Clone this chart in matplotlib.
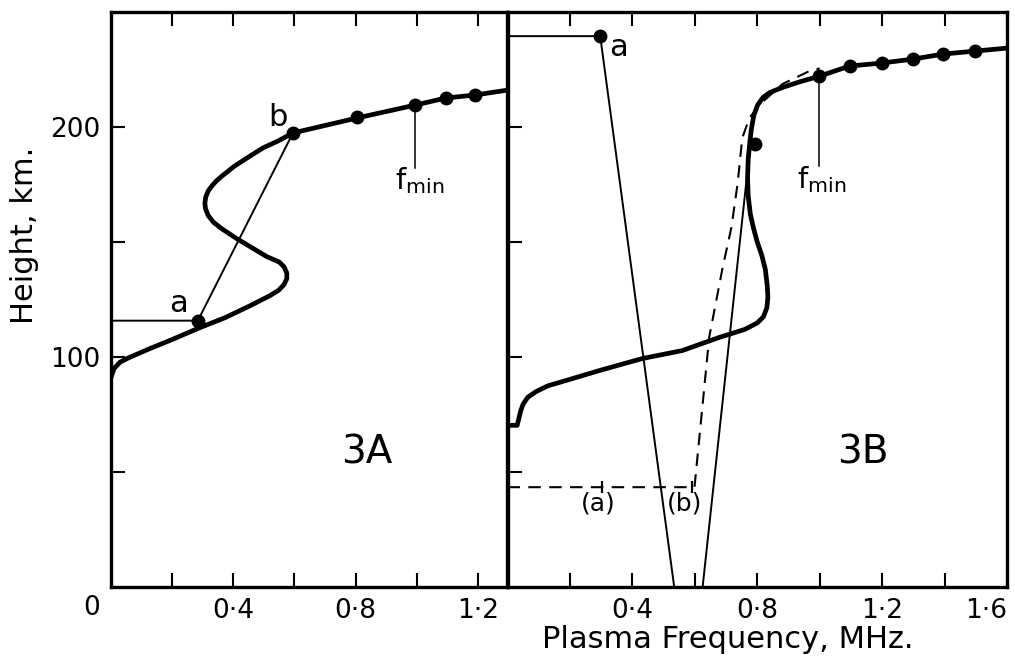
import matplotlib
matplotlib.use("Agg")
import matplotlib.pyplot as plt

plt.rcParams['font.family'] = ['DejaVu Sans']

# ---- panel 3A ----
a_freq = [0.0, 0.01, 0.03, 0.06, 0.128, 0.2, 0.284, 0.373, 0.455, 0.52, 0.548, 0.566,
          0.575, 0.575, 0.566, 0.55, 0.51, 0.461, 0.412, 0.363, 0.335, 0.318, 0.309,
          0.307, 0.31, 0.318, 0.33, 0.345, 0.363, 0.405, 0.455, 0.497, 0.546, 0.595,
          0.804, 0.994, 1.095, 1.19, 1.295]
a_height = [91.1, 95.0, 97.8, 99.8, 103.7, 107.6, 112.4, 117.1, 122.3, 126.7, 129.0, 131.5,
            134.1, 136.5, 139.2, 141.3, 143.6, 147.5, 151.4, 155.7, 158.6, 161.5, 164.5,
            167.0, 169.6, 172.2, 174.4, 176.6, 178.7, 183.1, 187.4, 190.9, 193.9, 197.4,
            203.9, 209.5, 212.6, 213.9, 216.0]
a_dot_freq = [0.284, 0.595, 0.804, 0.994, 1.095, 1.19]
a_dot_height = [115.8, 197.4, 204.3, 209.5, 212.6, 213.9]

# ---- panel 3B ----
b_freq = [0.0, 0.031, 0.036, 0.042, 0.05, 0.065, 0.092, 0.13, 0.188, 0.294, 0.431, 0.56,
          0.678, 0.76, 0.8, 0.82, 0.831, 0.834, 0.832, 0.826, 0.815, 0.8, 0.788, 0.778,
          0.771, 0.769, 0.771, 0.776, 0.781, 0.789, 0.801, 0.818, 0.84, 0.881, 0.935,
          0.999, 1.096, 1.198, 1.298, 1.395, 1.497, 1.6]
b_height = [70.3, 70.3, 73.0, 76.5, 79.5, 82.5, 85.0, 87.5, 89.8, 94.1, 99.3, 102.8,
            108.5, 112.0, 114.8, 117.5, 121.5, 126.0, 131.0, 138.0, 144.0, 150.0, 156.0, 162.0,
            170.0, 178.0, 186.0, 193.0, 199.0, 205.0, 209.5, 212.8, 215.0, 217.2, 219.6,
            222.1, 226.5, 227.8, 229.5, 231.7, 233.0, 234.3]
b_dot_freq = [0.297, 0.792, 0.999, 1.096, 1.198, 1.298, 1.395, 1.497]
b_dot_height = [239.5, 192.6, 222.1, 226.5, 227.8, 229.5, 231.7, 233.0]

b_dash_freq = [0.0, 0.599, 0.646, 0.689, 0.717, 0.737, 0.752, 0.775, 0.814, 0.881, 0.967, 1.0]
b_dash_height = [43.4, 43.4, 108.5, 138.8, 156.2, 175.3, 195.2, 204.0, 210.5, 218.7, 224.3, 225.5]

# thin construction lines
b_line_a_freq = [0.0, 0.297, 0.534]
b_line_a_height = [239.5, 239.5, 0.0]
b_line_b_freq = [0.625, 0.772]
b_line_b_height = [0.0, 185.0]
a_line_freq = [0.0, 0.284, 0.595]
a_line_height = [115.8, 115.8, 197.4]

a_xticks = [0.2, 0.4, 0.6, 0.8, 1.0, 1.2]
a_xticklabels = ['', '0·4', '', '0·8', '', '1·2']
b_xticks = [0.2, 0.4, 0.6, 0.8, 1.0, 1.2, 1.4, 1.6]
b_xticklabels = ['', '0·4', '', '0·8', '', '1·2', '', '1·6']
yticks = [50, 100, 150, 200]
yticklabels = ['', '100', '', '200']

W, H = 1015, 660
fig = plt.figure(figsize=(W / 100, H / 100), dpi=100)
ax1 = fig.add_axes([111 / W, 1 - 587 / H, (507 - 111) / W, 575 / H])
ax2 = fig.add_axes([507.5 / W, 1 - 587 / H, (1007 - 507.5) / W, 575 / H])

thick = dict(color='black', lw=3.4, solid_capstyle='round', solid_joinstyle='round')
thin = dict(color='black', lw=1.4)
dots = dict(ls='none', marker='o', ms=9, color='black', zorder=5)

# 3A
ax1.plot(a_freq, a_height, **thick)
ax1.plot(a_line_freq, a_line_height, **thin)
ax1.plot(a_dot_freq, a_dot_height, **dots)
ax1.plot([0.994, 0.994], [209.5, 182.2], color='black', lw=1.1)
ax1.text(0.222, 123.2, 'a', fontsize=22, ha='center', va='center')
ax1.text(0.546, 204.3, 'b', fontsize=22, ha='center', va='center')
ax1.text(1.01, 176.6, r'f$_{\mathregular{min}}$', fontsize=21, ha='center', va='center')
ax1.text(0.837, 58.6, '3A', fontsize=28, ha='center', va='center')
ax1.text(-0.062, -0.037, '0', fontsize=19, ha='center', va='center',
         transform=ax1.get_xaxis_transform(), clip_on=False)

# 3B
ax2.plot(b_freq, b_height, **thick)
ax2.plot(b_line_a_freq, b_line_a_height, **thin)
ax2.plot(b_line_b_freq, b_line_b_height, **thin)
ax2.plot(b_dash_freq, b_dash_height, color='black', lw=1.5, dashes=(6, 4))
ax2.plot([0.302, 0.59], [43.4, 43.4], ls='none', marker='|', ms=8, mew=1.6, color='black')
ax2.plot(b_dot_freq, b_dot_height, **dots)
ax2.plot([0.999, 0.999], [222.1, 183.0], color='black', lw=1.1)
ax2.text(0.355, 234.7, 'a', fontsize=22, ha='center', va='center')
ax2.text(1.006, 177.0, r'f$_{\mathregular{min}}$', fontsize=21, ha='center', va='center')
ax2.text(0.292, 36.4, '(a)', fontsize=18, ha='center', va='center')
ax2.text(0.568, 36.4, '(b)', fontsize=18, ha='center', va='center')
ax2.text(1.138, 58.6, '3B', fontsize=28, ha='center', va='center')

for ax in (ax1, ax2):
    ax.set_ylim(0, 250)
    ax.set_yticks(yticks)
    for s in ax.spines.values():
        s.set_linewidth(2.4)
    ax.tick_params(direction='in', length=10, width=1.5, labelsize=19,
                   top=True, bottom=True, left=True, right=False, pad=8)

ax1.set_xlim(0, 1.295)
ax1.set_xticks(a_xticks)
ax1.set_xticklabels(a_xticklabels)
ax1.set_yticklabels(yticklabels)

ax2.set_xlim(0, 1.6)
ax2.set_xticks(b_xticks)
ax2.set_xticklabels(b_xticklabels)
ax2.set_yticklabels([])
ax2.get_xticklabels()[-1].set_horizontalalignment('right')
ax2.get_xticklabels()[-1].set_x(1.61)

fig.text(728 / W, 1 - 640 / H, 'Plasma Frequency, MHz.', fontsize=22,
         ha='center', va='center')
fig.text(25 / W, 1 - 235 / H, 'Height, km.', fontsize=22, rotation=90,
         ha='center', va='center')

fig.savefig('out.png', dpi=100)
